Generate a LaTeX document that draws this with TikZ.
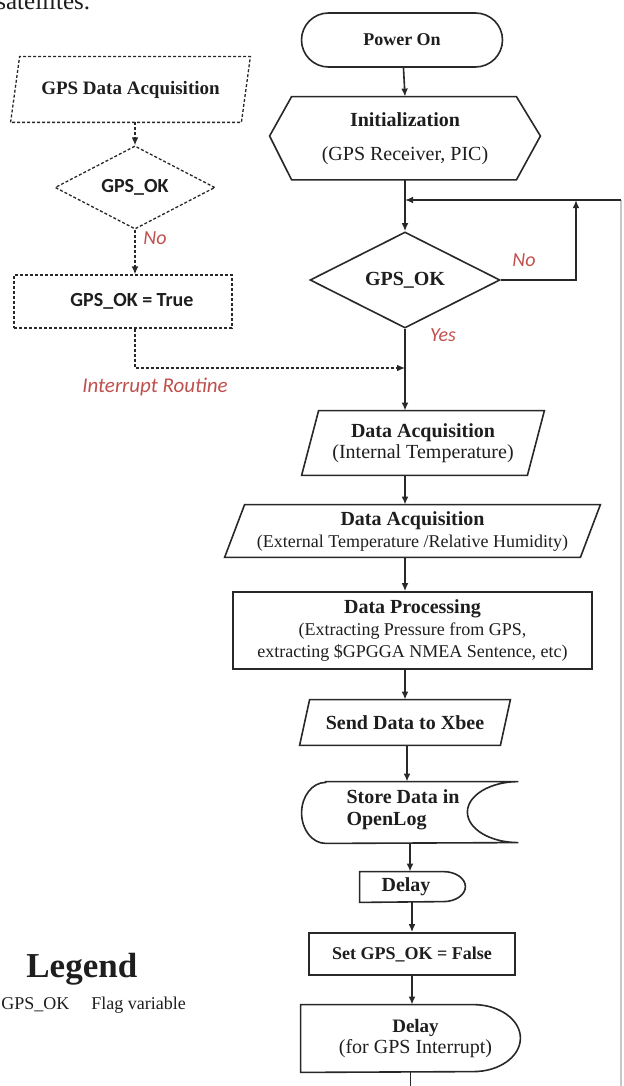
\documentclass[tikz,border=0pt]{standalone}
\usepackage{fontspec}
\setmainfont{Liberation Serif}
\newfontfamily\calfont{Carlito}
\usetikzlibrary{shapes.geometric,arrows.meta,calc}
\definecolor{redlab}{RGB}{192,80,77}
\definecolor{ln}{RGB}{40,40,40}
\definecolor{txt}{RGB}{30,30,30}
\tikzset{
  ol/.style={draw=ln, line width=0.8pt},
  dl/.style={draw=ln, line width=0.65pt, dash pattern=on 1.5pt off 1pt},
  arr/.style={draw=ln, line width=0.8pt, -{Latex[length=4pt,width=3.4pt]}},
  darr/.style={dl, -{Latex[length=4pt,width=3.4pt]}},
  lnk/.style={draw=ln, line width=0.8pt},
  faint/.style={draw=black!22, line width=0.6pt},
  bt/.style={font=\bfseries\fontsize{#1}{12}\selectfont},
  two/.style={align=center, font=\fontsize{10}{#1}\selectfont},
  redt/.style={text=redlab, font=\calfont\itshape\fontsize{#1}{12}\selectfont},
  sansb/.style={font=\calfont\bfseries\fontsize{10}{12}\selectfont},
}
\begin{document}
\begin{tikzpicture}[x=0.5pt,y=-0.5pt, every node/.style={inner sep=0pt, text=txt}]
\useasboundingbox (0,0) rectangle (623,1086);

% cropped caption text at the top
\node[anchor=base west, font=\fontsize{12.5}{14}\selectfont] (sat) at (-4,10) {satellites.};

% ---------- main column ----------
\node[ol, rounded corners=13.5pt, minimum width=100.5pt, minimum height=27pt, bt=9] (pwr) at (402,40) {Power On};

\node[minimum width=135pt, minimum height=40.5pt, two=12] (init) at (405,139)
  {\textbf{Initialization}\\[5pt](GPS Receiver, PIC)};
\draw[ol] ([yshift=1.5pt]init.west) -- ([xshift=11pt,yshift=0.75pt]init.north west) -- ([xshift=-12pt,yshift=0.75pt]init.north east)
  -- ([yshift=1.5pt]init.east) -- ([xshift=-12pt]init.south east) -- ([xshift=11pt]init.south west) -- cycle;

\node[ol, diamond, minimum width=95pt, minimum height=47pt, bt=10] (gps) at (405,280) {GPS\_OK};

\coordinate (j1) at (405,200);
\coordinate (rt) at (621,200);
\coordinate (rb) at (621,1092);
\coordinate (nl) at (576,200);

\node[redt=10] (no2) at (524,260) {No};
\node[redt=10] (yes) at (443,335) {Yes};

% Data acquisition (internal)
\node[minimum width=112.5pt, minimum height=32pt, two=10.5] (da1) at (423,443)
  {\textbf{Data Acquisition}\\(Internal Temperature)};
\draw[ol] ([xshift=-4.25pt]da1.south west) -- ([xshift=4.25pt]da1.north west)
  -- ([xshift=4.25pt]da1.north east) -- ([xshift=-4.25pt]da1.south east) -- cycle;

% Data acquisition (external)
\node[minimum width=177.5pt, minimum height=26pt, align=center, font=\fontsize{9}{11}\selectfont] (da2) at (412.5,531)
  {{\bfseries\fontsize{10}{11}\selectfont Data Acquisition}\\(External Temperature /Relative Humidity)};
\draw[ol] ([xshift=-5pt]da2.south west) -- ([xshift=5pt]da2.north west)
  -- ([xshift=5pt]da2.north east) -- ([xshift=-5pt]da2.south east) -- cycle;

% Data processing
\node[ol, minimum width=179.5pt, minimum height=38.5pt, align=center, font=\fontsize{9}{10.8}\selectfont] (proc) at (412.5,630.5)
  {{\bfseries\fontsize{10}{10.8}\selectfont Data Processing}\\(Extracting Pressure from GPS,\\extracting \$GPGGA NMEA Sentence, etc)};

% Send data
\node[minimum width=100pt, minimum height=22.5pt, bt=10] (send) at (405,722.5) {Send Data to Xbee};
\draw[ol] ([xshift=-2.5pt]send.south west) -- ([xshift=2.5pt]send.north west)
  -- ([xshift=2.5pt]send.north east) -- ([xshift=-2.5pt]send.south east) -- cycle;

% Store data
\node[minimum width=108pt, minimum height=30.5pt, align=left,
      font=\bfseries\fontsize{10}{11}\selectfont] (store) at (410,810) {Store Data in\hspace*{7pt}\\OpenLog};
\draw[ol] ([xshift=12pt,yshift=-1.25pt]store.north west) -- ([yshift=-1.25pt]store.north east)
  arc[start angle=90, end angle=270, x radius=25.5pt, y radius=15.25pt]
  -- ([xshift=12pt,yshift=-1.25pt]store.south west)
  arc[start angle=-90, end angle=-270, x radius=12pt, y radius=15.25pt] -- cycle;

% Delay (small)
\node[minimum width=52.5pt, minimum height=15pt, bt=10] (del1) at (412.5,887) {Delay\hspace*{6.5pt}};
\draw[ol] (del1.north west) -- ([xshift=-11pt]del1.north east)
  arc[start angle=90, end angle=-90, x radius=11pt, y radius=7.5pt]
  -- (del1.south west) -- cycle;

% Set flag
\node[ol, minimum width=103pt, minimum height=21pt, bt=9] (setf) at (412,954) {Set GPS\_OK = False};

% Delay (for GPS interrupt)
\node[minimum width=109.5pt, minimum height=33.5pt, two=10.5] (del2) at (410.5,1038.5)
  {\hspace*{5pt}{\bfseries\fontsize{9.5}{10.5}\selectfont Delay}\\\hspace*{5pt}(for GPS Interrupt)};
\draw[ol] (del2.north west) -- ([xshift=-23.5pt]del2.north east)
  arc[start angle=90, end angle=-90, x radius=23.5pt, y radius=16.75pt]
  -- (del2.south west) -- cycle;
\coordinate (bot) at (410.5,1092);

% ---------- interrupt routine (left) ----------
\node[minimum width=115pt, minimum height=32.5pt, bt=9.5] (gda) at (130.5,89.5) {GPS Data Acquisition};
\draw[dl] ([xshift=-2.25pt]gda.south west) -- ([xshift=2.25pt]gda.north west)
  -- ([xshift=2.25pt]gda.north east) -- ([xshift=-2.25pt]gda.south east) -- cycle;

\node[dl, diamond, minimum width=80pt, minimum height=37.5pt, sansb] (gpsL) at (135,187.5) {GPS\_OK};
\node[redt=10, anchor=west] (no1) at (143,238) {No};

\node[dl, minimum width=109pt, minimum height=26.5pt, sansb] (tru) at (123,301.5) {\hspace*{9pt}GPS\_OK = True};

\coordinate (jint) at (405,368);
\node[redt=10.5] (irt) at (155,387) {Interrupt Routine};

% ---------- legend ----------
\node[anchor=base west, font=\bfseries\fontsize{17.5}{20}\selectfont] (leg) at (26,977) {Legend};
\node[anchor=base west, font=\fontsize{9}{11}\selectfont] (lg1) at (1,1009) {GPS\_OK};
\node[anchor=base west, font=\fontsize{9}{11}\selectfont] (lg2) at (91,1009) {Flag variable};

% ---------- connectors ----------
\draw[arr] (pwr) -- ([yshift=0.75pt]init.north);
\draw[arr] (init.south) -- (gps.north);
\draw[faint] (rb) -- (rt);
\draw[arr] (rt) -- (j1);
\draw[arr] (gps.east) -| (nl);
\draw[arr] (gps.south) -- (gps.south |- da1.north);
\draw[arr] (gps.south |- da1.south) -- (gps.south |- da2.north);
\draw[arr] (gps.south |- da2.south) -- (gps.south |- proc.north);
\draw[arr] (gps.south |- proc.south) -- (gps.south |- send.north);
\draw[arr] ([xshift=1pt]send.south) -- ([xshift=1pt,yshift=-1.25pt]send.south |- store.north);
\draw[arr] ([yshift=-1.25pt]store.south) -- (store.south |- del1.north);
\draw[arr] (del1.south -| setf.north) -- (setf.north);
\draw[arr] (setf.south) -- (setf.south |- del2.north);
\draw[lnk] (del2.south) -- (bot);

\draw[darr] (gda.south -| gpsL.north) -- (gpsL.north);
\draw[darr] (gpsL.south) -- (gpsL.south |- tru.north);
\draw[darr] (gpsL.south |- tru.south) |- (jint);
\end{tikzpicture}
\end{document}
